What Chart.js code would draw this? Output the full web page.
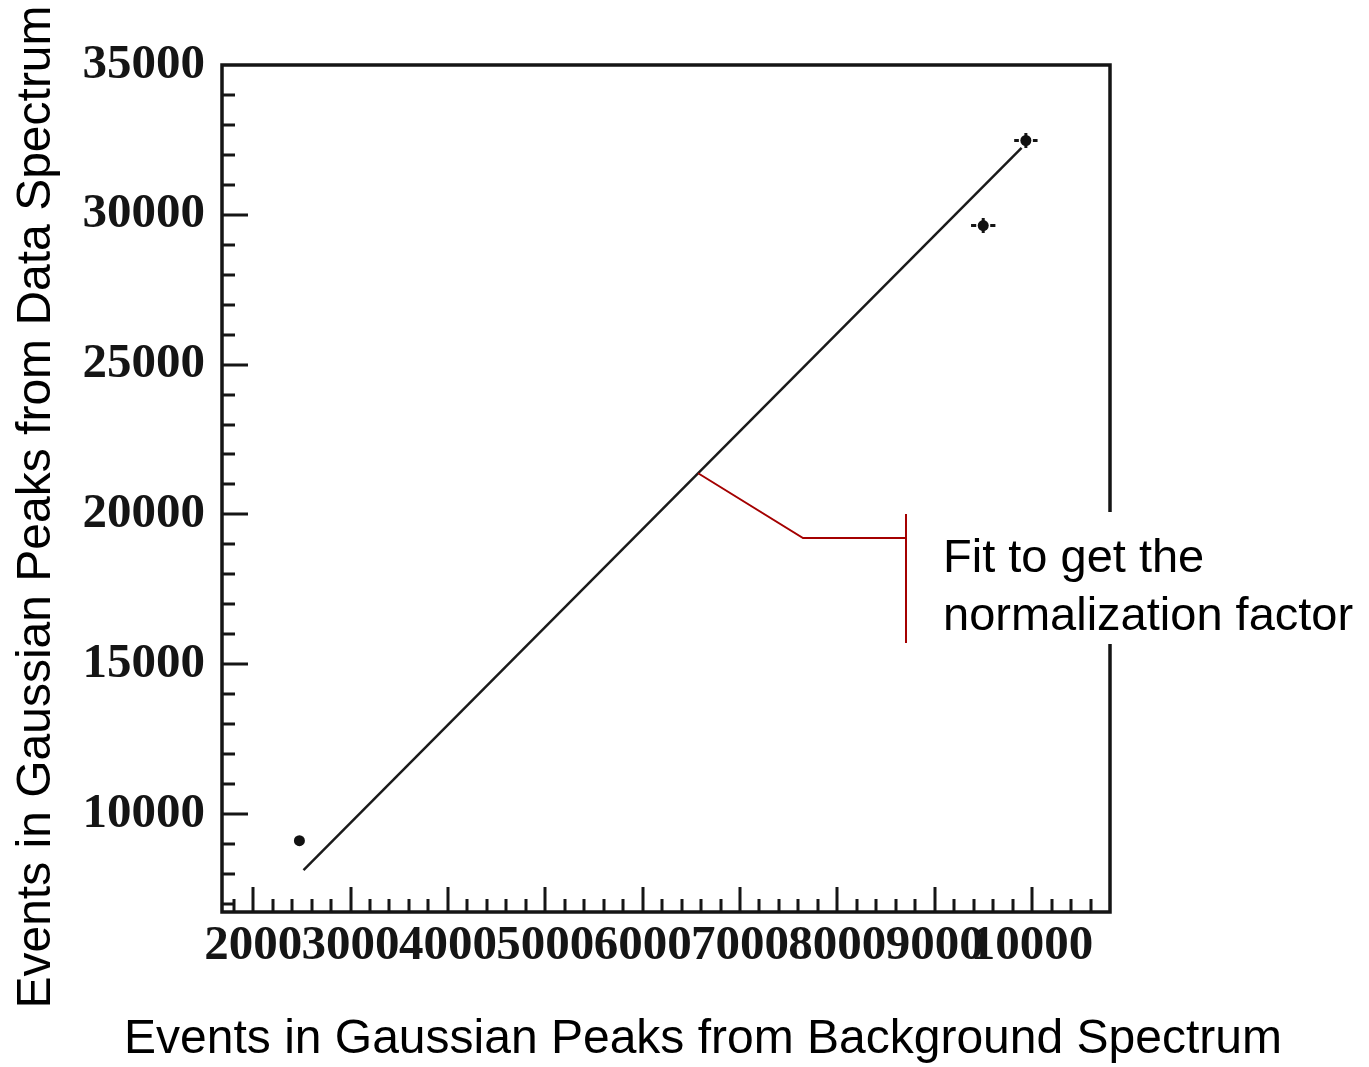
<!DOCTYPE html>
<html>
<head>
<meta charset="utf-8">
<title>Normalization fit</title>
<script src="https://cdn.jsdelivr.net/npm/chart.js@4.4.1/dist/chart.umd.min.js"></script>
<style>
  body { margin: 0; background: #fff; }
  #wrap { width: 1369px; height: 1067px; }
</style>
</head>
<body>
<div id="wrap"><canvas id="fitCanvas" width="1369" height="1067"></canvas></div>
<script>
// events in the gaussian peaks: background spectrum (x) vs data spectrum (y)
const bkgEvents = [2475, 9498, 9936];
const dataEvents = [9110, 29640, 32480];
const bkgErrors = [40, 125, 120];
const dataErrors = [100, 250, 250];

// straight-line fit, given by its two end points
const fitX = [2517, 9892];
const fitY = [8130, 32230];

// axes
const xRange = [1680, 10800];
const yRange = [6730, 35000];
const xTickValues = [2000, 3000, 4000, 5000, 6000, 7000, 8000, 9000, 10000];
const yTickValues = [10000, 15000, 20000, 25000, 30000, 35000];
const xMinorStep = 200;
const yMinorStep = 1000;

const xTitle = 'Events in Gaussian Peaks from Background Spectrum';
const yTitle = 'Events in Gaussian Peaks from Data Spectrum';
const noteLines = ['Fit to get the', 'normalization factor'];
const noteAnchorX = 6570; // where the callout touches the fit line

const tickFont = { family: '"Liberation Serif", "Times New Roman", serif', weight: 'bold', size: 49 };
const sansFont = '"Liberation Sans", Arial, sans-serif';

// frame and inward ticks, ROOT style
const framePlugin = {
  id: 'rootFrame',
  beforeDatasetsDraw(chart) {
    const { ctx, chartArea: a, scales: { x, y } } = chart;
    ctx.save();
    ctx.strokeStyle = '#151515';
    ctx.lineWidth = 3.5;
    ctx.strokeRect(a.left, a.top, a.right - a.left, a.bottom - a.top);

    ctx.lineWidth = 3;
    ctx.beginPath();
    const firstX = Math.ceil(xRange[0] / xMinorStep) * xMinorStep;
    for (let v = firstX; v < xRange[1]; v += xMinorStep) {
      const px = Math.round(x.getPixelForValue(v));
      const len = v % 1000 === 0 ? 25 : 13;
      ctx.moveTo(px, a.bottom);
      ctx.lineTo(px, a.bottom - len);
    }
    const firstY = Math.ceil(yRange[0] / yMinorStep) * yMinorStep;
    for (let v = firstY; v < yRange[1]; v += yMinorStep) {
      const py = Math.round(y.getPixelForValue(v));
      const len = v % 5000 === 0 ? 26 : 13;
      ctx.moveTo(a.left, py);
      ctx.lineTo(a.left + len, py);
    }
    ctx.stroke();

    // error bars with a small gap around the marker
    ctx.lineWidth = 3;
    ctx.beginPath();
    const gap = 7;
    bkgEvents.forEach((bx, i) => {
      const cx = x.getPixelForValue(bx);
      const cy = y.getPixelForValue(dataEvents[i]);
      const ex = x.getPixelForValue(bx + bkgErrors[i]) - cx;
      const ey = cy - y.getPixelForValue(dataEvents[i] + dataErrors[i]);
      if (ex > gap) {
        ctx.moveTo(cx - ex, cy); ctx.lineTo(cx - gap, cy);
        ctx.moveTo(cx + gap, cy); ctx.lineTo(cx + ex, cy);
      }
      ctx.moveTo(cx, cy - ey); ctx.lineTo(cx, cy + ey);
    });
    ctx.stroke();
    ctx.restore();
  }
};

// callout, note text and axis titles
const notePlugin = {
  id: 'note',
  afterDraw(chart) {
    const { ctx, scales: { x, y } } = chart;
    ctx.save();
    const t = (noteAnchorX - fitX[0]) / (fitX[1] - fitX[0]);
    const ax = x.getPixelForValue(noteAnchorX);
    const ay = y.getPixelForValue(fitY[0] + t * (fitY[1] - fitY[0]));

    ctx.strokeStyle = '#a40000';
    ctx.lineWidth = 2;
    ctx.beginPath();
    ctx.moveTo(ax, ay);
    ctx.lineTo(803, 538);
    ctx.lineTo(906, 538);
    ctx.moveTo(906, 514);
    ctx.lineTo(906, 643);
    ctx.stroke();

    ctx.fillStyle = '#fff';
    ctx.fillRect(910, 512, 459, 132);

    ctx.fillStyle = '#000';
    ctx.font = '47px ' + sansFont;
    ctx.textAlign = 'left';
    ctx.textBaseline = 'alphabetic';
    ctx.fillText(noteLines[0], 943, 572);
    ctx.fillText(noteLines[1], 943, 630);

    ctx.font = '48px ' + sansFont;
    ctx.textAlign = 'center';
    ctx.fillText(xTitle, 703, 1053);
    ctx.translate(50, 507);
    ctx.rotate(-Math.PI / 2);
    ctx.fillText(yTitle, 0, 0);
    ctx.restore();
  }
};

const plainLabel = v => String(v);

const ctx = document.getElementById('fitCanvas').getContext('2d');
new Chart(ctx, {
  type: 'scatter',
  data: {
    datasets: [
      {
        type: 'line',
        data: fitX.map((v, i) => ({ x: v, y: fitY[i] })),
        borderColor: '#1a1a1a',
        borderWidth: 2.5,
        pointRadius: 0,
        fill: false,
        tension: 0
      },
      {
        data: bkgEvents.map((v, i) => ({ x: v, y: dataEvents[i] })),
        backgroundColor: '#111',
        borderWidth: 0,
        pointRadius: 5.5
      }
    ]
  },
  options: {
    responsive: false,
    animation: false,
    layout: { padding: { top: 65, right: 259, left: 0, bottom: 0 } },
    plugins: { legend: { display: false }, tooltip: { enabled: false } },
    scales: {
      x: {
        type: 'linear',
        min: xRange[0],
        max: xRange[1],
        grid: { display: false, drawTicks: false },
        border: { display: false },
        afterBuildTicks: s => { s.ticks = xTickValues.map(v => ({ value: v })); },
        afterFit: s => { s.height = 155; },
        ticks: { autoSkip: false, maxRotation: 0, minRotation: 0, padding: 5, color: '#151515', font: tickFont, callback: plainLabel }
      },
      y: {
        type: 'linear',
        min: yRange[0],
        max: yRange[1],
        grid: { display: false, drawTicks: false },
        border: { display: false },
        afterBuildTicks: s => { s.ticks = yTickValues.map(v => ({ value: v })); },
        afterFit: s => { s.width = 222; },
        ticks: { padding: 17, color: '#151515', font: tickFont, callback: plainLabel }
      }
    }
  },
  plugins: [framePlugin, notePlugin]
});
</script>
</body>
</html>
